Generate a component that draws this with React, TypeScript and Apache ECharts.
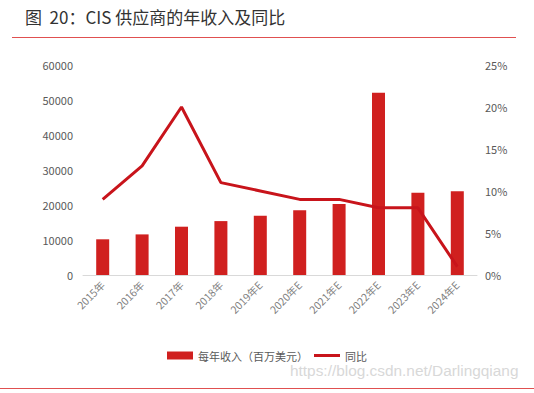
import React, { useEffect, useRef } from "react";
import * as echarts from "echarts";

const categories = ["2015年", "2016年", "2017年", "2018年", "2019年E", "2020年E", "2021年E", "2022年E", "2023年E", "2024年E"];
const revenue = [10200, 11600, 13800, 15400, 16900, 18500, 20300, 52100, 23500, 23900];
const yoy = [9, 13, 20, 11, 10, 9, 9, 8, 8, 1];
const leftTicks = [0, 60000, 10000];
const rightTicks = [0, 25, 5];

export default function App() {
  const ref = useRef<HTMLDivElement>(null);
  useEffect(() => {
    const chart = echarts.init(ref.current!, null, { renderer: "svg" });
    const font = "'Noto Sans CJK SC', 'Noto Sans', sans-serif";
    chart.setOption({
      animation: false,
      backgroundColor: "#ffffff",
      textStyle: { fontFamily: font },
      grid: { left: 83, right: 57, top: 65, bottom: 118 },
      graphic: [
        { type: "text", left: 25, top: 8, style: { text: "图  20：CIS 供应商的年收入及同比", fontSize: 17, fill: "#333", fontFamily: font } },
        { type: "line", shape: { x1: 12, y1: 37.5, x2: 516, y2: 37.5 }, style: { stroke: "#e05050", lineWidth: 1.2 } },
        { type: "line", shape: { x1: 0, y1: 388.5, x2: 534, y2: 388.5 }, style: { stroke: "#e05050", lineWidth: 1.2 } },
        { type: "text", left: 290, top: 363, style: { text: "https://blog.csdn.net/Darlingqiang", fontSize: 15.4, fill: "#d8d8d8", fontFamily: "'Liberation Sans', Arial, sans-serif" } },
      ],
      legend: {
        bottom: 27,
        left: "center",
        itemGap: 6,
        itemWidth: 26,
        itemHeight: 8,
        textStyle: { fontSize: 11, color: "#595959" },
        data: [
          { name: "每年收入（百万美元）", icon: "rect" },
          { name: "同比", icon: "path://M0,0 L26,0 L26,3 L0,3 Z", itemStyle: { color: "#c8141b" } },
        ],
      },
      xAxis: {
        type: "category",
        data: categories,
        axisLine: { lineStyle: { color: "#d9d9d9" } },
        axisTick: { show: false },
        axisLabel: { rotate: 45, fontSize: 10.5, color: "#7f7f7f", margin: 8 },
      },
      yAxis: [
        {
          type: "value",
          min: leftTicks[0],
          max: leftTicks[1],
          interval: leftTicks[2],
          splitLine: { show: false },
          axisLine: { show: false },
          axisTick: { show: false },
          axisLabel: { fontSize: 11, color: "#595959", margin: 10, formatter: (v: number) => String(v) },
        },
        {
          type: "value",
          min: rightTicks[0],
          max: rightTicks[1],
          interval: rightTicks[2],
          splitLine: { show: false },
          axisLine: { show: false },
          axisTick: { show: false },
          axisLabel: { fontSize: 11, color: "#595959", margin: 8, formatter: "{value}%" },
        },
      ],
      series: [
        {
          name: "每年收入（百万美元）",
          type: "bar",
          data: revenue,
          barWidth: 13,
          itemStyle: { color: "#d0201f" },
        },
        {
          name: "同比",
          type: "line",
          yAxisIndex: 1,
          data: yoy,
          symbol: "none",
          lineStyle: { color: "#c8141b", width: 3 },
          itemStyle: { color: "#c8141b" },
        },
      ],
    });
    return () => chart.dispose();
  }, []);
  return <div ref={ref} style={{ width: 534, height: 393, position: "absolute", left: 0, top: 0 }} />;
}
